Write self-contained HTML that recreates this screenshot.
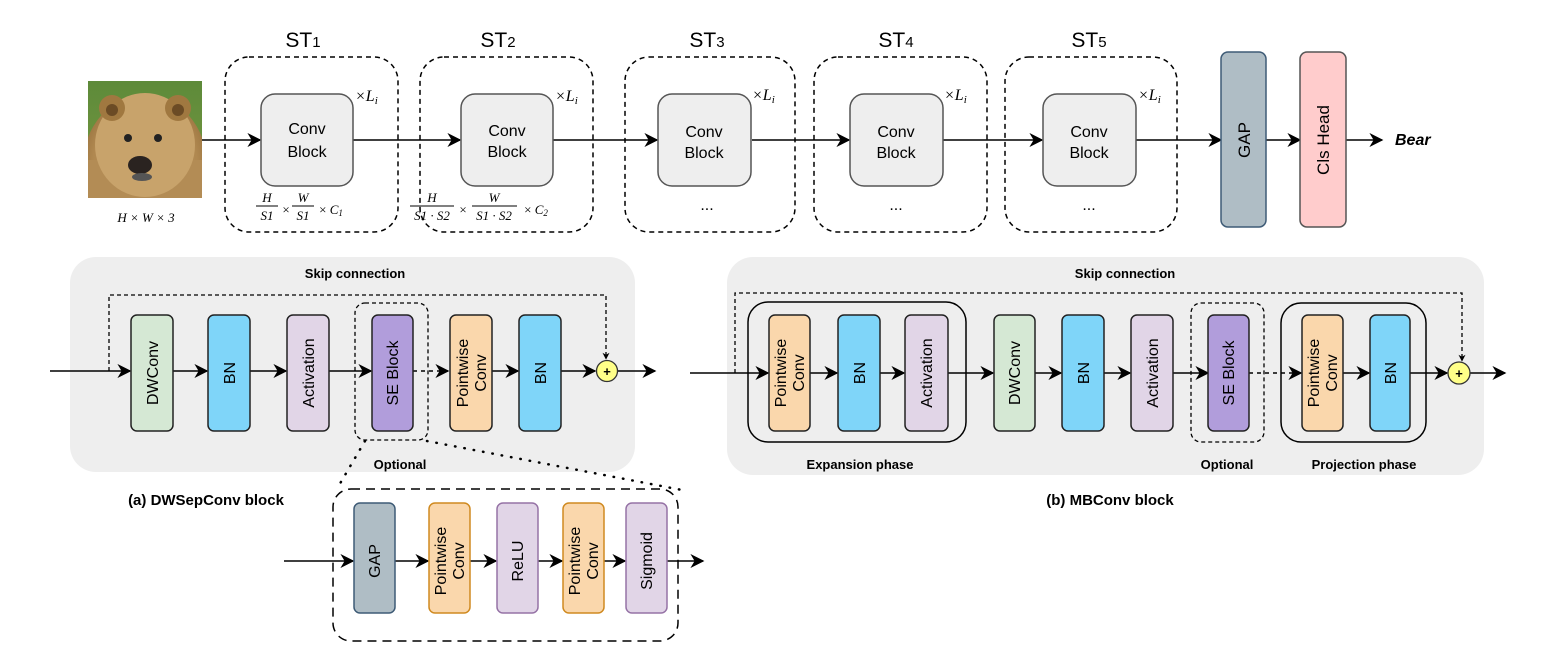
<!DOCTYPE html>
<html><head><meta charset="utf-8"><style>
html,body{margin:0;padding:0;background:#fff;}
svg{display:block;}
text{font-family:"Liberation Sans",sans-serif;}
.m, .m text, text.m{font-family:"Liberation Serif",serif;}
</style></head><body>
<svg width="1561" height="661" viewBox="0 0 1561 661" xmlns="http://www.w3.org/2000/svg">
<defs>
<marker id="a" viewBox="0 0 10 10" refX="9" refY="5" markerWidth="7" markerHeight="7" orient="auto" markerUnits="userSpaceOnUse"><path d="M0,0 L10,5 L0,10 L3,5z" fill="#000"/></marker>
<marker id="b" viewBox="0 0 10 10" refX="9" refY="5" markerWidth="14" markerHeight="14" orient="auto" markerUnits="userSpaceOnUse"><path d="M0,0 L10,5 L0,10 L3,5z" fill="#000"/></marker>
<linearGradient id="bg" x1="0" y1="0" x2="0" y2="1"><stop offset="0" stop-color="#5d8a3a"/><stop offset="1" stop-color="#7a9a40"/></linearGradient>
<radialGradient id="br" cx="0.5" cy="0.5" r="0.6"><stop offset="0" stop-color="#c9a46a"/><stop offset="0.7" stop-color="#b08850"/><stop offset="1" stop-color="#8f6a38"/></radialGradient>
<clipPath id="bc"><rect x="88" y="81" width="114" height="117"/></clipPath>
</defs>

<!-- TOP ROW -->
<g stroke="#000" stroke-width="1.5" stroke-dasharray="5,4" fill="none">
<rect x="225" y="57" width="173" height="175" rx="24"/>
<rect x="420" y="57" width="173" height="175" rx="24"/>
<rect x="625" y="57" width="170" height="175" rx="24"/>
<rect x="814" y="57" width="173" height="175" rx="24"/>
<rect x="1005" y="57" width="172" height="175" rx="24"/>
</g>
<g font-size="21" text-anchor="middle">
<text x="303" y="47">ST<tspan font-size="15">1</tspan></text>
<text x="498" y="47">ST<tspan font-size="15">2</tspan></text>
<text x="707" y="47">ST<tspan font-size="15">3</tspan></text>
<text x="896" y="47">ST<tspan font-size="15">4</tspan></text>
<text x="1089" y="47">ST<tspan font-size="15">5</tspan></text>
</g>
<!-- bear -->
<g clip-path="url(#bc)">
<rect x="88" y="81" width="114" height="117" fill="url(#bg)"/>
<ellipse cx="145" cy="165" rx="62" ry="70" fill="url(#br)"/>
<rect x="88" y="160" width="114" height="40" fill="#b38c55"/>
<ellipse cx="145" cy="145" rx="50" ry="52" fill="#c8a36b"/>
<circle cx="112" cy="108" r="13" fill="#a07840"/><circle cx="112" cy="110" r="6" fill="#6b4b25"/>
<circle cx="178" cy="108" r="13" fill="#a07840"/><circle cx="178" cy="110" r="6" fill="#6b4b25"/>
<circle cx="128" cy="138" r="4" fill="#222"/><circle cx="158" cy="138" r="4" fill="#222"/>
<ellipse cx="140" cy="165" rx="12" ry="9" fill="#2a2320"/>
<ellipse cx="142" cy="177" rx="10" ry="4" fill="#555"/>
</g>

<text x="146" y="222" class="m" font-size="13" font-style="italic" text-anchor="middle">H × W × 3</text>

<g stroke="#000" stroke-width="1.5" fill="none" marker-end="url(#b)">
<line x1="202" y1="140" x2="260" y2="140"/>
<line x1="353" y1="140" x2="460" y2="140"/>
<line x1="553" y1="140" x2="657" y2="140"/>
<line x1="752" y1="140" x2="849" y2="140"/>
<line x1="943" y1="140" x2="1042" y2="140"/>
<line x1="1135" y1="140" x2="1221" y2="140"/>
<line x1="1266" y1="140" x2="1300" y2="140"/>
<line x1="1346" y1="140" x2="1382" y2="140"/>
</g>
<g fill="#eeeeee" stroke="#555" stroke-width="1.5">
<rect x="261" y="94" width="92" height="92" rx="14"/>
<rect x="461" y="94" width="92" height="92" rx="14"/>
<rect x="658" y="94" width="93" height="92" rx="14"/>
<rect x="850" y="94" width="93" height="92" rx="14"/>
<rect x="1043" y="94" width="93" height="92" rx="14"/>
</g>
<g font-size="16" text-anchor="middle">
<text x="307" y="134">Conv</text><text x="307" y="157">Block</text>
<text x="507" y="136">Conv</text><text x="507" y="157">Block</text>
<text x="704" y="137">Conv</text><text x="704" y="158">Block</text>
<text x="896" y="137">Conv</text><text x="896" y="158">Block</text>
<text x="1089" y="137">Conv</text><text x="1089" y="158">Block</text>
<text x="707" y="210">...</text><text x="896" y="210">...</text><text x="1089" y="210">...</text>
</g>
<g class="m" font-size="16" font-style="italic">
<text x="355" y="101">×L<tspan font-size="11" dy="3">i</tspan></text>
<text x="555" y="101">×L<tspan font-size="11" dy="3">i</tspan></text>
<text x="752" y="100">×L<tspan font-size="11" dy="3">i</tspan></text>
<text x="944" y="100">×L<tspan font-size="11" dy="3">i</tspan></text>
<text x="1138" y="100">×L<tspan font-size="11" dy="3">i</tspan></text>
</g>
<!-- fractions -->
<g class="m" font-size="13" font-style="italic" text-anchor="middle">
<text x="267" y="202">H</text><line x1="256" y1="206" x2="278" y2="206" stroke="#000"/><text x="267" y="220">S1</text>
<text x="286" y="214" font-style="normal">×</text>
<text x="303" y="202">W</text><line x1="292" y1="206" x2="314" y2="206" stroke="#000"/><text x="303" y="220">S1</text>
<text x="331" y="214"><tspan font-style="normal">×</tspan> C<tspan font-size="9" dy="2">1</tspan></text>
<text x="432" y="202">H</text><line x1="410" y1="206" x2="454" y2="206" stroke="#000"/><text x="432" y="220">S1 · S2</text>
<text x="463" y="214" font-style="normal">×</text>
<text x="494" y="202">W</text><line x1="472" y1="206" x2="517" y2="206" stroke="#000"/><text x="494" y="220">S1 · S2</text>
<text x="536" y="214"><tspan font-style="normal">×</tspan> C<tspan font-size="9" dy="2">2</tspan></text>
</g>
<rect x="1221" y="52" width="45" height="175" rx="7" fill="#afbdc5" stroke="#3e5b76" stroke-width="1.5"/>
<rect x="1300" y="52" width="46" height="175" rx="7" fill="#ffcccc" stroke="#555" stroke-width="1.5"/>
<g font-size="17" text-anchor="middle">
<text transform="translate(1250,140) rotate(-90)">GAP</text>
<text transform="translate(1329,140) rotate(-90)">Cls Head</text>
</g>
<text x="1395" y="145" font-size="16" font-weight="bold" font-style="italic">Bear</text>

<!-- PANEL A -->
<rect x="70" y="257" width="565" height="215" rx="26" fill="#eeeeee"/>
<text x="355" y="278" font-size="13" font-weight="bold" text-anchor="middle">Skip connection</text>
<polyline points="109,371 109,295 606,295 606,359" fill="none" stroke="#000" stroke-width="1.3" stroke-dasharray="4,3" marker-end="url(#a)"/>
<g stroke="#000" stroke-width="1.5" fill="none" marker-end="url(#b)">
<line x1="50" y1="371" x2="130" y2="371"/>
<line x1="173" y1="371" x2="207" y2="371"/>
<line x1="250" y1="371" x2="286" y2="371"/>
<line x1="329" y1="371" x2="371" y2="371"/>
<line x1="492" y1="371" x2="518" y2="371"/>
<line x1="561" y1="371" x2="595" y2="371"/>
<line x1="617" y1="371" x2="655" y2="371"/>
</g>
<line x1="413" y1="371" x2="448" y2="371" stroke="#000" stroke-width="1.5" stroke-dasharray="4,4" marker-end="url(#b)"/>
<rect x="355" y="303" width="73" height="137" rx="10" fill="none" stroke="#000" stroke-width="1.3" stroke-dasharray="4,3"/>
<g stroke="#222" stroke-width="1.5">
<rect x="131" y="315" width="42" height="116" rx="6" fill="#d5e8d4"/>
<rect x="208" y="315" width="42" height="116" rx="6" fill="#7fd5f9"/>
<rect x="287" y="315" width="42" height="116" rx="6" fill="#e1d5e7"/>
<rect x="372" y="315" width="41" height="116" rx="6" fill="#b19ddb"/>
<rect x="450" y="315" width="42" height="116" rx="6" fill="#fad7ac"/>
<rect x="519" y="315" width="42" height="116" rx="6" fill="#7fd5f9"/>
</g>
<circle cx="607" cy="371" r="10.5" fill="#ffff88" stroke="#333" stroke-width="1.3"/>
<text x="607" y="376" font-size="13" font-weight="bold" text-anchor="middle">+</text>
<g font-size="16" text-anchor="middle">
<text transform="translate(158,373) rotate(-90)">DWConv</text>
<text transform="translate(235,373) rotate(-90)">BN</text>
<text transform="translate(314,373) rotate(-90)">Activation</text>
<text transform="translate(398,373) rotate(-90)">SE Block</text>
<text transform="translate(468,373) rotate(-90)">Pointwise</text>
<text transform="translate(486,373) rotate(-90)">Conv</text>
<text transform="translate(546,373) rotate(-90)">BN</text>
</g>
<text x="400" y="469" font-size="13" font-weight="bold" text-anchor="middle">Optional</text>
<text x="206" y="505" font-size="15" font-weight="bold" text-anchor="middle">(a) DWSepConv block</text>
<g stroke="#000" stroke-width="2.5" stroke-dasharray="0.5,9" stroke-linecap="round">
<line x1="365" y1="441" x2="338" y2="487"/>
<line x1="427" y1="441" x2="682" y2="490"/>
</g>
<rect x="333" y="489" width="345" height="152" rx="18" fill="none" stroke="#000" stroke-width="1.5" stroke-dasharray="9,6"/>
<g stroke="#000" stroke-width="1.5" fill="none" marker-end="url(#b)">
<line x1="284" y1="561" x2="353" y2="561"/>
<line x1="395" y1="561" x2="428" y2="561"/>
<line x1="470" y1="561" x2="496" y2="561"/>
<line x1="538" y1="561" x2="562" y2="561"/>
<line x1="604" y1="561" x2="625" y2="561"/>
<line x1="667" y1="561" x2="703" y2="561"/>
</g>
<g stroke-width="1.5">
<rect x="354" y="503" width="41" height="110" rx="6" fill="#afbdc5" stroke="#3e5b76"/>
<rect x="429" y="503" width="41" height="110" rx="6" fill="#fad7ac" stroke="#d08a20"/>
<rect x="497" y="503" width="41" height="110" rx="6" fill="#e1d5e7" stroke="#9673a6"/>
<rect x="563" y="503" width="41" height="110" rx="6" fill="#fad7ac" stroke="#d08a20"/>
<rect x="626" y="503" width="41" height="110" rx="6" fill="#e1d5e7" stroke="#9673a6"/>
</g>
<g font-size="16" text-anchor="middle">
<text transform="translate(380,561) rotate(-90)">GAP</text>
<text transform="translate(446,561) rotate(-90)">Pointwise</text>
<text transform="translate(464,561) rotate(-90)">Conv</text>
<text transform="translate(523,561) rotate(-90)">ReLU</text>
<text transform="translate(580,561) rotate(-90)">Pointwise</text>
<text transform="translate(598,561) rotate(-90)">Conv</text>
<text transform="translate(652,561) rotate(-90)">Sigmoid</text>
</g>

<!-- PANEL B -->
<rect x="727" y="257" width="757" height="218" rx="26" fill="#eeeeee"/>
<text x="1125" y="278" font-size="13" font-weight="bold" text-anchor="middle">Skip connection</text>
<polyline points="735,373 735,293 1462,293 1462,361" fill="none" stroke="#000" stroke-width="1.3" stroke-dasharray="4,3" marker-end="url(#a)"/>
<rect x="748" y="302" width="218" height="140" rx="20" fill="none" stroke="#000" stroke-width="1.5"/>
<rect x="1281" y="303" width="145" height="139" rx="20" fill="none" stroke="#000" stroke-width="1.5"/>
<rect x="1191" y="303" width="73" height="139" rx="10" fill="none" stroke="#000" stroke-width="1.3" stroke-dasharray="4,3"/>
<g stroke="#000" stroke-width="1.5" fill="none" marker-end="url(#b)">
<line x1="690" y1="373" x2="768" y2="373"/>
<line x1="810" y1="373" x2="837" y2="373"/>
<line x1="880" y1="373" x2="904" y2="373"/>
<line x1="948" y1="373" x2="993" y2="373"/>
<line x1="1035" y1="373" x2="1061" y2="373"/>
<line x1="1104" y1="373" x2="1130" y2="373"/>
<line x1="1173" y1="373" x2="1208" y2="373"/>
<line x1="1343" y1="373" x2="1369" y2="373"/>
<line x1="1410" y1="373" x2="1447" y2="373"/>
<line x1="1470" y1="373" x2="1505" y2="373"/>
</g>
<line x1="1249" y1="373" x2="1301" y2="373" stroke="#000" stroke-width="1.5" stroke-dasharray="4,4" marker-end="url(#b)"/>
<g stroke="#222" stroke-width="1.5">
<rect x="769" y="315" width="41" height="116" rx="6" fill="#fad7ac"/>
<rect x="838" y="315" width="42" height="116" rx="6" fill="#7fd5f9"/>
<rect x="905" y="315" width="43" height="116" rx="6" fill="#e1d5e7"/>
<rect x="994" y="315" width="41" height="116" rx="6" fill="#d5e8d4"/>
<rect x="1062" y="315" width="42" height="116" rx="6" fill="#7fd5f9"/>
<rect x="1131" y="315" width="42" height="116" rx="6" fill="#e1d5e7"/>
<rect x="1208" y="315" width="41" height="116" rx="6" fill="#b19ddb"/>
<rect x="1302" y="315" width="41" height="116" rx="6" fill="#fad7ac"/>
<rect x="1370" y="315" width="40" height="116" rx="6" fill="#7fd5f9"/>
</g>
<circle cx="1459" cy="373" r="11" fill="#ffff88" stroke="#333" stroke-width="1.3"/>
<text x="1459" y="378" font-size="13" font-weight="bold" text-anchor="middle">+</text>
<g font-size="16" text-anchor="middle">
<text transform="translate(786,373) rotate(-90)">Pointwise</text>
<text transform="translate(804,373) rotate(-90)">Conv</text>
<text transform="translate(865,373) rotate(-90)">BN</text>
<text transform="translate(932,373) rotate(-90)">Activation</text>
<text transform="translate(1020,373) rotate(-90)">DWConv</text>
<text transform="translate(1089,373) rotate(-90)">BN</text>
<text transform="translate(1158,373) rotate(-90)">Activation</text>
<text transform="translate(1234,373) rotate(-90)">SE Block</text>
<text transform="translate(1319,373) rotate(-90)">Pointwise</text>
<text transform="translate(1337,373) rotate(-90)">Conv</text>
<text transform="translate(1396,373) rotate(-90)">BN</text>
</g>
<g font-size="13" font-weight="bold" text-anchor="middle">
<text x="860" y="469">Expansion phase</text>
<text x="1227" y="469">Optional</text>
<text x="1364" y="469">Projection phase</text>
</g>
<text x="1110" y="505" font-size="15" font-weight="bold" text-anchor="middle">(b) MBConv block</text>
</svg>
</body></html>
